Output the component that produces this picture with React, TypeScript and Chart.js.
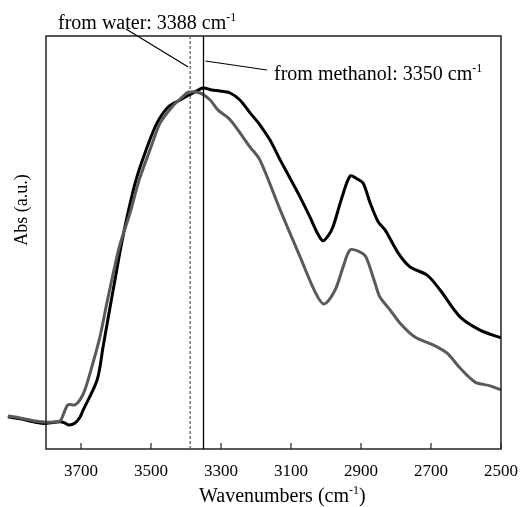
import React, { useEffect, useRef } from "react";
import { Chart, registerables } from "chart.js";

Chart.register(...registerables);

// Wavenumbers (cm-1) and absorbance (a.u.)
const methanolWn = [3909, 3874, 3831, 3800, 3760, 3746, 3734, 3717, 3703, 3694, 3654, 3637, 3620, 3603, 3586, 3566, 3543, 3511, 3483, 3451, 3417, 3380, 3351, 3326, 3303, 3274, 3246, 3217, 3189, 3160, 3131, 3103, 3074, 3046, 3026, 3009, 2994, 2980, 2954, 2931, 2911, 2894, 2874, 2851, 2831, 2794, 2760, 2711, 2674, 2617, 2560, 2500];
const methanolAbs = [0.078, 0.073, 0.065, 0.062, 0.066, 0.063, 0.058, 0.063, 0.077, 0.094, 0.167, 0.247, 0.329, 0.409, 0.489, 0.571, 0.651, 0.731, 0.789, 0.828, 0.845, 0.862, 0.874, 0.869, 0.867, 0.862, 0.845, 0.814, 0.785, 0.748, 0.7, 0.656, 0.61, 0.562, 0.525, 0.504, 0.516, 0.538, 0.61, 0.661, 0.654, 0.644, 0.596, 0.55, 0.53, 0.475, 0.441, 0.421, 0.385, 0.32, 0.288, 0.269];

const waterWn = [3909, 3874, 3831, 3800, 3760, 3749, 3737, 3717, 3703, 3689, 3666, 3646, 3626, 3609, 3589, 3560, 3534, 3500, 3474, 3440, 3411, 3394, 3360, 3331, 3309, 3274, 3217, 3189, 3131, 3074, 3031, 3006, 2974, 2951, 2931, 2903, 2886, 2860, 2846, 2817, 2789, 2746, 2694, 2654, 2617, 2574, 2531, 2500];
const waterAbs = [0.08, 0.075, 0.068, 0.065, 0.068, 0.087, 0.107, 0.107, 0.119, 0.143, 0.208, 0.271, 0.354, 0.421, 0.494, 0.571, 0.651, 0.731, 0.789, 0.828, 0.852, 0.864, 0.862, 0.845, 0.821, 0.797, 0.731, 0.7, 0.579, 0.465, 0.38, 0.351, 0.385, 0.441, 0.482, 0.477, 0.465, 0.402, 0.368, 0.337, 0.305, 0.271, 0.252, 0.232, 0.196, 0.162, 0.153, 0.143];

const xTicks = [3700, 3500, 3300, 3100, 2900, 2700, 2500];
const waterPeak = 3388;
const methanolPeak = 3350;
const waterLabel = "from water: 3388 cm";
const methanolLabel = "from methanol: 3350 cm";
const xTitle = "Wavenumbers (cm";
const yTitle = "Abs (a.u.)";

const FONT = "'Liberation Serif', 'Times New Roman', serif";

function drawSup(ctx: CanvasRenderingContext2D, text: string, tail: string, x: number, y: number, size: number) {
  ctx.font = `${size}px ${FONT}`;
  ctx.textAlign = "left";
  ctx.textBaseline = "alphabetic";
  ctx.fillText(text, x, y);
  const w = ctx.measureText(text).width;
  ctx.font = `${Math.round(size * 0.62)}px ${FONT}`;
  ctx.fillText("-1", x + w, y - size * 0.38);
  const w2 = ctx.measureText("-1").width;
  if (tail) {
    ctx.font = `${size}px ${FONT}`;
    ctx.fillText(tail, x + w + w2, y);
  }
}

const decor = {
  id: "decor",
  afterDatasetsDraw(chart: any) {
    const { ctx, chartArea } = chart;
    const xs = chart.scales.x;
    const { left, right, top, bottom } = chartArea;
    ctx.save();
    // frame
    ctx.strokeStyle = "#222";
    ctx.lineWidth = 1.5;
    ctx.strokeRect(left, top, right - left, bottom - top);
    // inside ticks
    ctx.lineWidth = 1.2;
    xTicks.forEach((v) => {
      const px = xs.getPixelForValue(v);
      ctx.beginPath();
      ctx.moveTo(px, bottom);
      ctx.lineTo(px, bottom - 6);
      ctx.stroke();
    });
    // peak markers
    const wx = xs.getPixelForValue(waterPeak);
    const mx = xs.getPixelForValue(methanolPeak);
    ctx.strokeStyle = "#666";
    ctx.lineWidth = 1.3;
    ctx.setLineDash([3, 2]);
    ctx.beginPath();
    ctx.moveTo(wx, top);
    ctx.lineTo(wx, bottom);
    ctx.stroke();
    ctx.setLineDash([]);
    ctx.strokeStyle = "#000";
    ctx.lineWidth = 1.3;
    ctx.beginPath();
    ctx.moveTo(mx, top);
    ctx.lineTo(mx, bottom);
    ctx.stroke();
    // leader lines
    ctx.lineWidth = 1.2;
    ctx.beginPath();
    ctx.moveTo(126, 29);
    ctx.lineTo(wx - 2, 67);
    ctx.moveTo(mx + 2, 61);
    ctx.lineTo(267, 70);
    ctx.stroke();
    // labels
    ctx.fillStyle = "#000";
    drawSup(ctx, waterLabel, "", 58, 29, 20);
    drawSup(ctx, methanolLabel, "", 274, 80, 20);
    drawSup(ctx, xTitle, ")", 199, 502, 20);
    // y title
    ctx.translate(22, 210);
    ctx.rotate(-Math.PI / 2);
    ctx.font = `18px ${FONT}`;
    ctx.textAlign = "center";
    ctx.textBaseline = "middle";
    ctx.fillText(yTitle, 0, 0);
    ctx.restore();
  },
};

export default function App() {
  const ref = useRef<HTMLCanvasElement>(null);
  useEffect(() => {
    document.body.style.margin = "0";
    const chart = new Chart(ref.current as HTMLCanvasElement, {
      type: "line",
      data: {
        datasets: [
          {
            label: "water",
            data: waterWn.map((x, i) => ({ x, y: waterAbs[i] })),
            borderColor: "#5a5a5a",
            borderWidth: 3,
            pointRadius: 0,
            tension: 0.3,
            clip: false as any,
          },
          {
            label: "methanol",
            data: methanolWn.map((x, i) => ({ x, y: methanolAbs[i] })),
            borderColor: "#000",
            borderWidth: 3,
            pointRadius: 0,
            tension: 0.3,
            clip: false as any,
          },
        ],
      },
      options: {
        animation: false,
        responsive: false,
        layout: { padding: { top: 36, right: 21, left: 0, bottom: 0 } },
        plugins: { legend: { display: false }, tooltip: { enabled: false } },
        scales: {
          x: {
            type: "linear",
            reverse: true,
            min: 2500,
            max: 3800,
            afterBuildTicks: (s: any) => {
              s.ticks = xTicks.map((v) => ({ value: v }));
            },
            afterFit: (s: any) => {
              s.height = 58;
              s.paddingLeft = 0;
              s.paddingRight = 0;
            },
            grid: { display: false },
            border: { display: false },
            ticks: {
              color: "#000",
              font: { family: FONT, size: 17 },
              padding: 4,
              maxRotation: 0,
              autoSkip: false,
              callback: (v: any) => String(v),
            },
          },
          y: {
            min: 0,
            max: 1,
            afterFit: (s: any) => {
              s.width = 46;
            },
            grid: { display: false },
            border: { display: false },
            ticks: { display: false },
          },
        },
      },
      plugins: [decor],
    });
    return () => chart.destroy();
  }, []);
  return <canvas ref={ref} width={522} height={507} style={{ display: "block" }} />;
}
